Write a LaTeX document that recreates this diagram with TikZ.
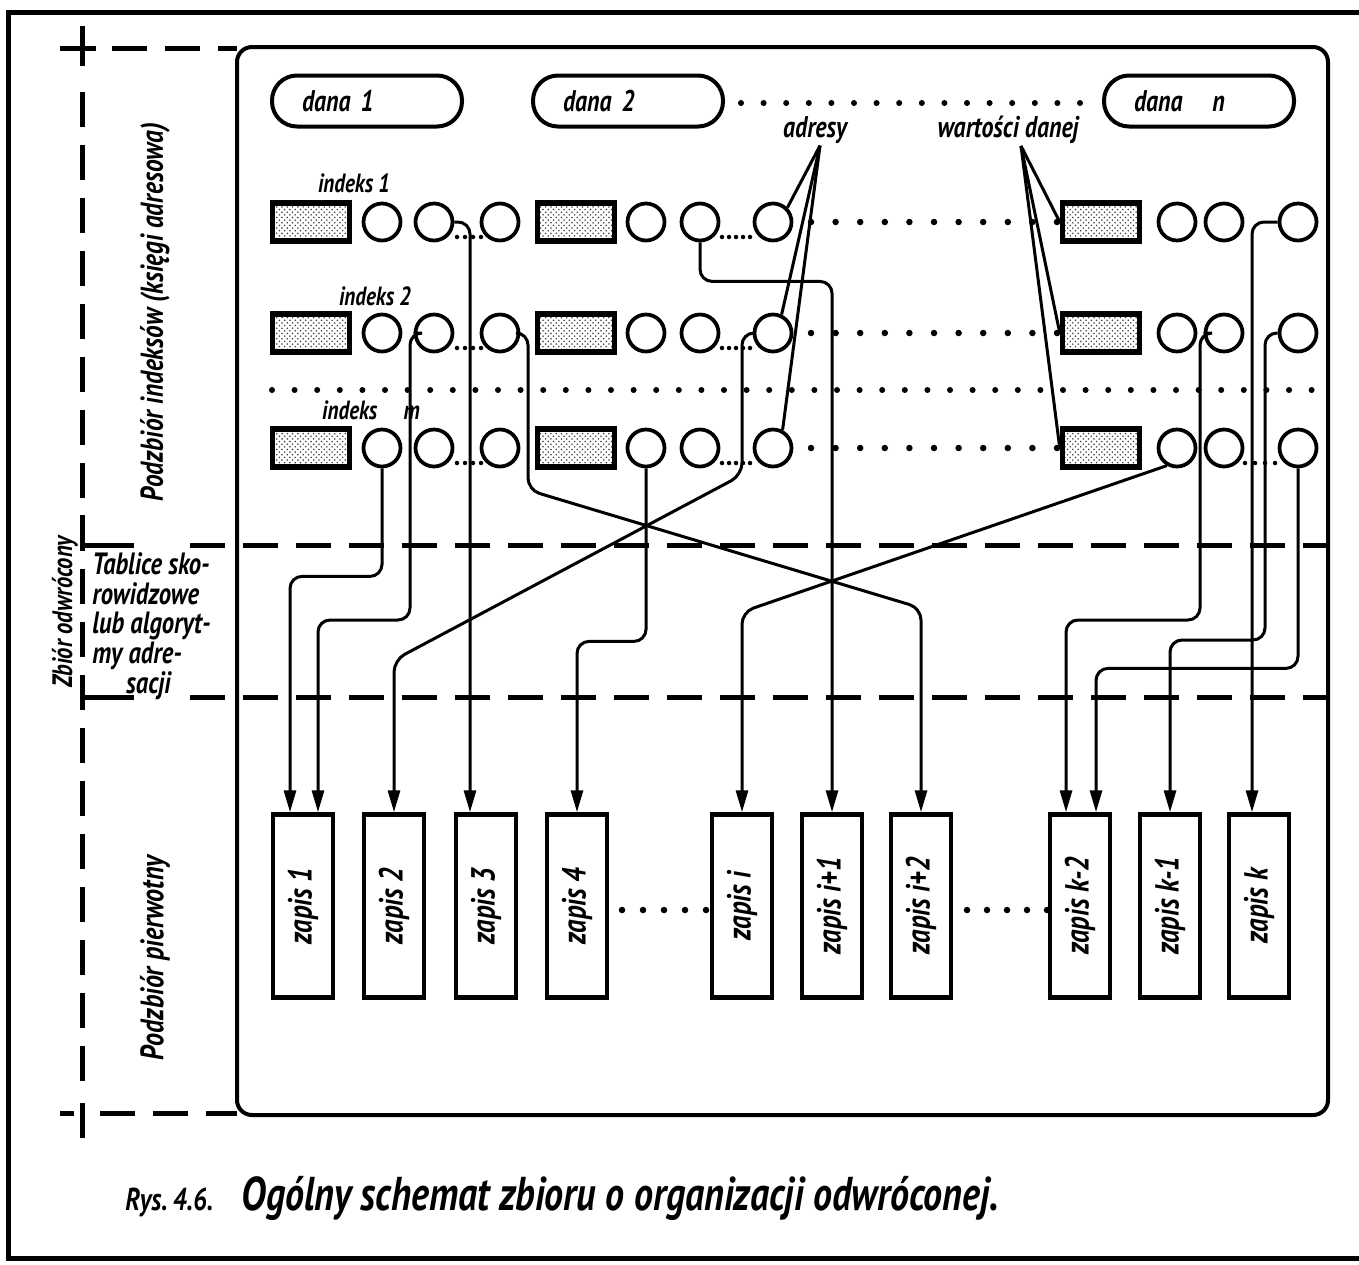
\documentclass[tikz,border=0pt]{standalone}
\usepackage{fontspec}
\newfontfamily\handfont{PT Sans}[FakeStretch=0.8]
\usetikzlibrary{arrows.meta,patterns}

\tikzset{
  hand/.style 2 args={font=\handfont\bfseries\itshape\fontsize{#1}{#2}\selectfont},
  frameline/.style={line width=1mm},
  zoneline/.style={line width=1mm, dash pattern=on 7mm off 3.6mm},
  databox/.style={draw, line width=0.8mm, rounded corners=5mm, minimum width=38mm,
    minimum height=10.2mm, text width=26mm, align=left, inner xsep=6mm, hand={17}{20}},
  keybox/.style={draw, line width=1.1mm, minimum width=15.4mm, minimum height=7.6mm,
    inner sep=0, pattern=crosshatch dots, pattern color=black!75},
  ptr/.style={circle, draw, line width=0.75mm, minimum size=7.4mm, inner sep=0},
  recbox/.style={draw, line width=0.9mm, minimum width=12mm, minimum height=36.6mm,
    inner sep=0, hand={19}{22}},
  link/.style={line width=0.6mm, rounded corners=2.4mm,
    -{Triangle[length=4.4mm,width=2.4mm]}},
  lead/.style={line width=0.6mm},
}

\begin{document}
\begin{tikzpicture}[x=0.2mm, y=-0.2mm]
\useasboundingbox (0,0) rectangle (1359,1264);
%% ── Page frame and inverted-file box ─────────────────────────────────────
\draw[frameline] (1359,12) -| (8,1258) -- (1359,1258);
\draw[line width=0.8mm, rounded corners=3mm] (237,47) rectangle (1328,1115);
%% ── Zone marks ───────────────────────────────────────────────────────────
\draw[frameline] (82,26) -- (82,66) (60,48) -- (96,48);
\draw[zoneline] (112,48) -- (237,48);
\draw[zoneline] (82,92) -- (82,1098);
\draw[frameline] (82,1103) -- (82,1138) (60,1113) -- (74,1113);
\draw[zoneline] (100,1113) -- (237,1113);
\draw[frameline] (82,515) |- (134,545);
\draw[zoneline] (190,545) -- (1328,545);
\draw[frameline] (82,680) |- (134,697);
\draw[zoneline] (190,697) -- (1328,697);
%% ── Zone labels ──────────────────────────────────────────────────────────
\node[hand={18}{21}, rotate=90] (idxzone) at (155,312) {Podzbiór indeksów (księgi adresowa)};
\node[hand={16}{19}, rotate=90] (invzone) at (65,612) {Zbiór odwrócony};
\node[hand={18.5}{21}, rotate=90] (primzone) at (155,958) {Podzbiór pierwotny};
\node[hand={17.5}{17}, anchor=north west, align=left, inner sep=0] (tabzone) at (92,552)
  {Tablice sko-\\rowidzowe\\lub algoryt-\\my adre-\\\hspace*{1.1em}sacji};
%% ── Data items ───────────────────────────────────────────────────────────
\node[databox] (d1) at (367,101) {dana 1};
\node[databox] (d2) at (628,101) {dana 2};
\node[databox] (dn) at (1199,101) {dana\quad n};
\foreach \x in {741,763.6,...,1082} \fill (\x,103) circle[radius=0.6mm];
%% ── Index rows ───────────────────────────────────────────────────────────
\node[hand={15}{18}] (ix1) at (354,183) {indeks 1};
\node[hand={15}{18}] (ix2) at (375,296) {indeks 2};
\node[hand={15}{18}] (ixm) at (371,410) {indeks\quad m};
\foreach \r/\y in {1/222,2/333,m/448}{
  \node[keybox] (w\r-1) at (311,\y) {};
  \node[keybox] (w\r-2) at (576,\y) {};
  \node[keybox] (w\r-3) at (1101,\y) {};
  \foreach \i/\x in {1/382,2/434,3/500,4/646,5/700,6/773,7/1177,8/1224,9/1298}
    \node[ptr] (c\r-\i) at (\x,\y) {};
  \foreach \x in {457,465,...,482} \fill (\x,\y+15) circle[radius=0.45mm];
  \foreach \x in {722,729,...,751} \fill (\x,\y+15) circle[radius=0.45mm];
  \foreach \x in {811,835.6,...,1058} \fill (\x,\y) circle[radius=0.65mm];
}
\foreach \x in {1245,1255,...,1276} \fill (\x,463) circle[radius=0.45mm];
\foreach \x in {272,294.6,...,1313} \fill (\x,390) circle[radius=0.6mm];
%% ── Pointer labels ───────────────────────────────────────────────────────
\node[hand={17}{20}, inner sep=1pt] (adresy) at (815,130) {adresy};
\node[hand={17}{20}, inner sep=1pt] (wartosci) at (1008,130) {wartości danej};
\foreach \t in {c1-6.north east, c2-6.65, cm-6.62}
  \draw[lead] ([xshift=1mm]adresy.south) -- (\t);
\foreach \r in {1,2,m}
  \draw[lead] ([xshift=2.6mm]wartosci.south) -- (w\r-3.west);
%% ── Records ──────────────────────────────────────────────────────────────
\foreach \n/\x/\lbl in {z1/303/1, z2/394/2, z3/486/3, z4/577/4, zi/742/i,
    zi1/832/i+1, zi2/921/i+2, zk2/1080/k-2, zk1/1170/k-1, zk/1259/k}
  \node[recbox] (\n) at (\x,906) {\rotatebox{90}{zapis \lbl}};
\foreach \x in {622,643,...,706} \fill (\x,910) circle[radius=0.65mm];
\foreach \x in {967,987,...,1047} \fill (\x,910) circle[radius=0.65mm];
%% ── Address links ────────────────────────────────────────────────────────
\draw[link] (c1-2.east) -| ([xshift=-3.2mm]z3.north);
\draw[link] (c1-5.south) -- ++(0,39) -| (zi1.north);
\draw[link] (c1-9.west) -| ([xshift=-1.4mm]zk.north);
\draw[link] (c2-2.west) -| (410,620) -| ([xshift=3mm]z1.north);
\draw[link] (c2-3.east) -| (528,490) -- (921,608) -- (zi2.north);
\draw[link] (c2-6.west) -| (742,475) -- (394,660) -- (z2.north);
\draw[link] (c2-8.west) -| (1200,620) -| ([xshift=-2.8mm]zk2.north);
\draw[link] (c2-9.west) -| (1265,640) -| (zk1.north);
\draw[link] (cm-1.south) -- ++(0,108) -| ([xshift=-2.6mm]z1.north);
\draw[link] (cm-4.south) -- ++(0,173) -| (z4.north);
\draw[link] (cm-7.240) -- (742,612) -- (zi.north);
\draw[link] (cm-9.south) -- ++(0,200) -| ([xshift=3.2mm]zk2.north);
%% ── Caption ──────────────────────────────────────────────────────────────
\node[hand={27}{30}, anchor=base west, inner sep=0] (caption) at (125,1210)
  {{\fontsize{18}{22}\selectfont Rys.\,4.6.}\hspace{0.6em}Ogólny schemat zbioru o organizacji odwróconej.};
\end{tikzpicture}
\end{document}
